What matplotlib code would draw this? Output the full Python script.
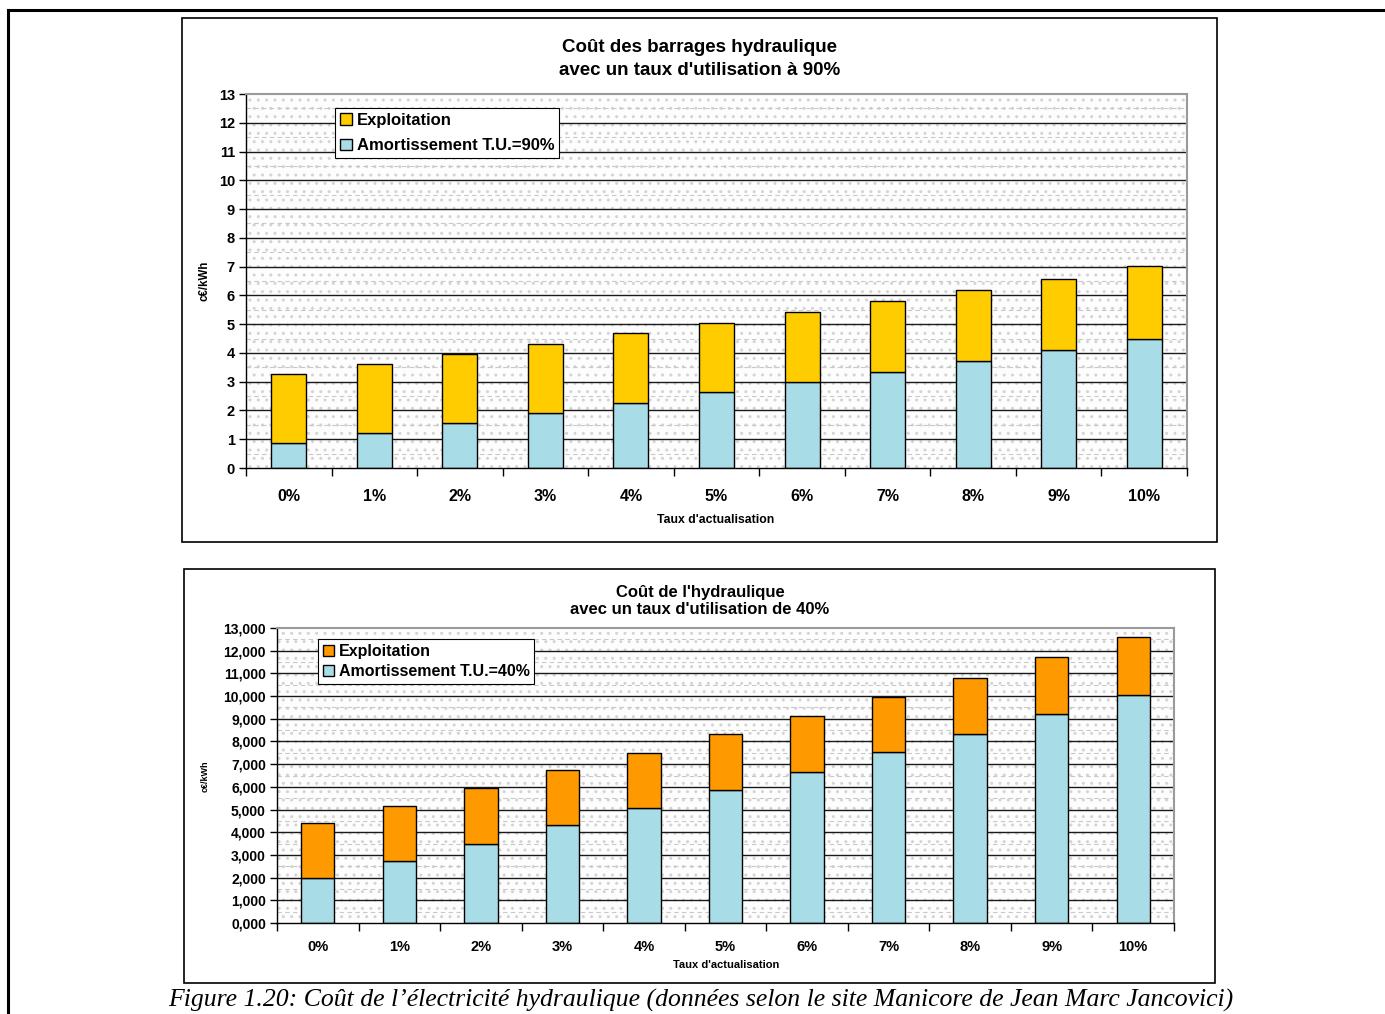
import numpy as np
import matplotlib
matplotlib.use("Agg")
import matplotlib.pyplot as plt
from matplotlib.patches import Rectangle
from matplotlib.lines import Line2D

# data
categories = ["0%", "1%", "2%", "3%", "4%", "5%", "6%", "7%", "8%", "9%", "10%"]

amort_90 = [0.87, 1.22, 1.56, 1.91, 2.26, 2.63, 2.99, 3.35, 3.71, 4.09, 4.50]
total_90 = [3.27, 3.61, 3.96, 4.31, 4.69, 5.04, 5.42, 5.80, 6.18, 6.58, 7.01]
exploit_90 = [t - a for t, a in zip(total_90, amort_90)]

amort_40 = [1.97, 2.75, 3.50, 4.31, 5.07, 5.87, 6.66, 7.52, 8.35, 9.19, 10.06]
total_40 = [4.39, 5.15, 5.93, 6.73, 7.50, 8.32, 9.12, 9.97, 10.81, 11.71, 12.62]
exploit_40 = [t - a for t, a in zip(total_40, amort_40)]

W, H = 1385, 1014
plt.rcParams['font.family'] = ['Liberation Sans', 'DejaVu Sans']
plt.rcParams['hatch.linewidth'] = 1.0

fig = plt.figure(figsize=(W / 100, H / 100), dpi=100)


def px_rect(x0, y0, x1, y1):
    """pixel box (top-left origin) -> figure fraction [l, b, w, h]"""
    return [x0 / W, 1 - y1 / H, (x1 - x0) / W, (y1 - y0) / H]


def frame(x0, y0, x1, y1):
    l, b, w, h = px_rect(x0, y0, x1, y1)
    fig.patches.append(Rectangle((l, b), w, h, transform=fig.transFigure,
                                 fill=False, edgecolor='black', lw=1.2, zorder=0))


def draw_chart(box, amort, exploit, ymax, fmt, amort_label, exploit_color,
               tick_size, xtick_size, xpad, leg_anchor, leg_size, leg_space):
    ax = fig.add_axes(px_rect(*box))
    x = np.arange(len(categories))

    # patterned background
    ax.add_patch(Rectangle((0, 0), 1, 1, transform=ax.transAxes,
                           facecolor='#fdfdfd', edgecolor='#d4d4d4',
                           hatch='..', lw=0, zorder=0))
    for v in np.arange(0.5, ymax, 1.0):
        ax.axhline(v, color='#c8c8c8', lw=0.8, dashes=(4, 3), zorder=0.5)
    for v in range(1, ymax):
        ax.axhline(v, color='#1a1a1a', lw=1.0, zorder=0.6)

    ax.bar(x, amort, width=0.41, color='#a8dce7', edgecolor='black',
           lw=1.0, zorder=2, label=amort_label)
    ax.bar(x, exploit, width=0.41, bottom=amort, color=exploit_color,
           edgecolor='black', lw=1.0, zorder=2, label='Exploitation')

    ax.set_xlim(-0.5, len(categories) - 0.5)
    ax.set_ylim(0, ymax)
    ax.set_yticks(range(0, ymax + 1))
    ax.set_yticklabels([fmt(v) for v in range(0, ymax + 1)],
                       fontsize=tick_size, fontweight='bold')
    ax.set_xticks(np.arange(-0.5, len(categories)))
    ax.set_xticklabels([])
    ax.set_xticks(x, minor=True)
    ax.set_xticklabels(categories, minor=True, fontsize=xtick_size,
                       fontweight='bold')
    ax.tick_params(axis='x', which='major', length=6, width=1, direction='out')
    ax.tick_params(axis='x', which='minor', length=0, pad=xpad)
    ax.tick_params(axis='y', length=5, width=1, direction='out', pad=3)

    for s in ('top', 'right'):
        ax.spines[s].set_color('#9a9a9a')
        ax.spines[s].set_linewidth(1.5)
    for s in ('left', 'bottom'):
        ax.spines[s].set_color('black')
        ax.spines[s].set_linewidth(1.0)

    handles, labels = ax.get_legend_handles_labels()
    leg = ax.legend(handles[::-1], labels[::-1], loc='upper left',
                    bbox_to_anchor=(leg_anchor[0] / W, 1 - leg_anchor[1] / H),
                    bbox_transform=fig.transFigure, fancybox=False,
                    framealpha=1, edgecolor='black', borderpad=0.3,
                    labelspacing=leg_space, handlelength=0.7, handleheight=0.7,
                    handletextpad=0.3, borderaxespad=0,
                    prop={'size': leg_size, 'weight': 'bold'})
    leg.get_frame().set_linewidth(0.8)
    return ax


# page border
fig.add_artist(Line2D([8 / W, 1], [1 - 10 / H, 1 - 10 / H], color='black', lw=2.2))
fig.add_artist(Line2D([8 / W, 8 / W], [0, 1 - 10 / H], color='black', lw=2.2))

# top chart
frame(182, 18, 1217, 542)
ax1 = draw_chart((246, 94, 1187, 468), amort_90, exploit_90, 13,
                 lambda v: str(v), 'Amortissement T.U.=90%', '#ffcc00',
                 10.5, 11.5, 15, (335, 108), 12, 0.62)
fig.text(700 / W, 1 - 59 / H, "Coût des barrages hydraulique\navec un taux d'utilisation à 90%",
         ha='center', va='center', fontsize=13.5, fontweight='bold', linespacing=1.45)
fig.text(205 / W, 1 - 281 / H, "c€/kWh", rotation=90, ha='center', va='center',
         fontsize=8.3, fontweight='bold')
fig.text(716 / W, 1 - 520 / H, "Taux d'actualisation", ha='center', va='center',
         fontsize=8.8, fontweight='bold')

# bottom chart
frame(184, 569, 1215, 983)
ax2 = draw_chart((277, 628, 1174, 923), amort_40, exploit_40, 13,
                 lambda v: "{},000".format(v), 'Amortissement T.U.=40%', '#ff9900',
                 10, 10.5, 12, (318, 639), 11.5, 0.32)
fig.text(700 / W, 1 - 601 / H, "Coût de l'hydraulique\navec un taux d'utilisation de 40%",
         ha='center', va='center', fontsize=12, fontweight='bold', linespacing=1.25)
fig.text(205 / W, 1 - 776 / H, "c€/kWh", rotation=90, ha='center', va='center',
         fontsize=6.5, fontweight='bold')
fig.text(726 / W, 1 - 965 / H, "Taux d'actualisation", ha='center', va='center',
         fontsize=8, fontweight='bold')

# caption
fig.text(701 / W, 1 - 1000 / H,
         "Figure 1.20: Coût de l’électricité hydraulique (données selon le site Manicore de Jean Marc Jancovici)",
         ha='center', va='center', fontsize=18.5, style='italic',
         family=['Liberation Serif', 'DejaVu Serif'])

fig.savefig("out.png", dpi=100)
